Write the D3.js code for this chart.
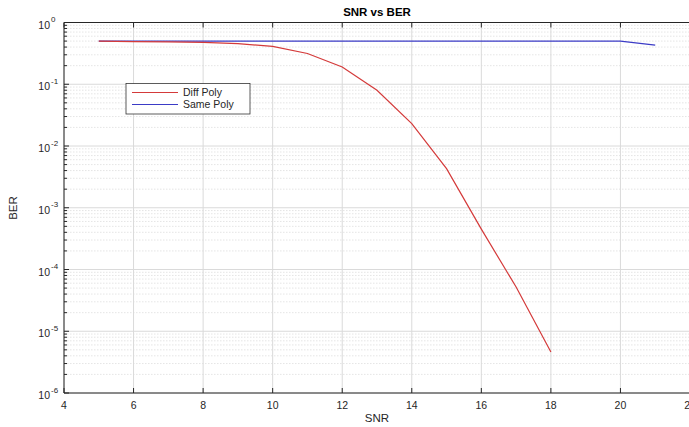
<!DOCTYPE html>
<html><head><meta charset="utf-8">
<script src="https://cdn.jsdelivr.net/npm/d3@7"></script>
<style>
body{margin:0;background:#fff;}
svg{display:block;font-family:"Liberation Sans",Arial,sans-serif;}
</style></head>
<body>
<svg id="c" width="689" height="427"></svg>
<script>
const snrDiff = [5,6,7,8,9,10,11,12,13,14,15,16,17,18];
const berDiff = [0.5,0.49,0.485,0.475,0.455,0.41,0.315,0.19,0.08,0.023,0.0043,0.00045,0.000052,0.0000046];
const snrSame = [5,6,7,8,9,10,11,12,13,14,15,16,17,18,19,20,21];
const berSame = [0.5,0.5,0.5,0.5,0.5,0.5,0.5,0.5,0.5,0.5,0.5,0.5,0.5,0.5,0.5,0.5,0.43];
const xTicks = [4,6,8,10,12,14,16,18,20,22];
const yExps = [0,-1,-2,-3,-4,-5,-6];
const seriesNames = ["Diff Poly","Same Poly"];
const colors = ["#d43a3a","#3b3bc6"];

const svg = d3.select("#c");
const L=64, R=690, T=22.5, B=393;
const x = d3.scaleLinear().domain([4,22]).range([L,R]);
const y = d3.scaleLog().domain([1e-6,1]).range([B,T]);
const axisCol="#262626";

// grid
const g = svg.append("g");
// minor y grid
yExps.slice(1).forEach(e=>{
  for(let m=2;m<=9;m++){
    const v=m*Math.pow(10,e);
    g.append("line").attr("x1",L).attr("x2",R).attr("y1",y(v)).attr("y2",y(v))
      .attr("stroke","#dedede").attr("stroke-width",0.8).attr("stroke-dasharray","1.5,1.5");
  }
});
// major y grid
yExps.forEach(e=>{
  const v=Math.pow(10,e);
  g.append("line").attr("x1",L).attr("x2",R).attr("y1",y(v)).attr("y2",y(v))
    .attr("stroke","#dadada").attr("stroke-width",1);
});
// major x grid
xTicks.forEach(t=>{
  g.append("line").attr("x1",x(t)).attr("x2",x(t)).attr("y1",T).attr("y2",B)
    .attr("stroke","#dadada").attr("stroke-width",1);
});

// lines
const line = d3.line().x(d=>x(d[0])).y(d=>y(d[1]));
svg.append("path").datum(snrSame.map((s,i)=>[s,berSame[i]]))
  .attr("d",line).attr("fill","none").attr("stroke",colors[1]).attr("stroke-width",1.2);
svg.append("path").datum(snrDiff.map((s,i)=>[s,berDiff[i]]))
  .attr("d",line).attr("fill","none").attr("stroke",colors[0]).attr("stroke-width",1.2);

// axes box
svg.append("line").attr("x1",L).attr("x2",L).attr("y1",T).attr("y2",B).attr("stroke",axisCol);
svg.append("line").attr("x1",L).attr("x2",R).attr("y1",B).attr("y2",B).attr("stroke",axisCol);
svg.append("line").attr("x1",L).attr("x2",R).attr("y1",T).attr("y2",T).attr("stroke",axisCol);

// x ticks
const xa = svg.append("g");
xTicks.forEach(t=>{
  xa.append("line").attr("x1",x(t)).attr("x2",x(t)).attr("y1",B).attr("y2",B-5).attr("stroke",axisCol);
  xa.append("line").attr("x1",x(t)).attr("x2",x(t)).attr("y1",T).attr("y2",T+5).attr("stroke",axisCol);
  xa.append("text").attr("x",x(t)).attr("y",409).attr("text-anchor","middle")
    .attr("font-size",10.5).attr("fill",axisCol).text(t);
});
// y ticks
yExps.forEach(e=>{
  const v=Math.pow(10,e);
  svg.append("line").attr("x1",L).attr("x2",L+5).attr("y1",y(v)).attr("y2",y(v)).attr("stroke",axisCol);
  const tx = svg.append("text").attr("x",50).attr("y",y(v)+6).attr("text-anchor","end")
    .attr("font-size",10.5).attr("fill",axisCol);
  tx.text("10");
  svg.append("text").attr("x",51).attr("y",y(v)-0.5).attr("font-size",8)
    .attr("fill",axisCol).text(e===0?"0":"-"+(-e));
  if(e>-6){
    for(let m=2;m<=9;m++){
      const mv=m*Math.pow(10,e-1);
      svg.append("line").attr("x1",L).attr("x2",L+3).attr("y1",y(mv)).attr("y2",y(mv)).attr("stroke",axisCol);
    }
  }
});

// labels
svg.append("text").attr("x",(L+R)/2).attr("y",16).attr("text-anchor","middle")
  .attr("font-size",11.5).attr("font-weight","bold").attr("fill","#000").text("SNR vs BER");
svg.append("text").attr("x",(L+R)/2).attr("y",422).attr("text-anchor","middle")
  .attr("font-size",11.5).attr("fill",axisCol).text("SNR");
svg.append("text").attr("transform","translate(17,208) rotate(-90)").attr("text-anchor","middle")
  .attr("font-size",11.5).attr("fill",axisCol).text("BER");

// legend
const lg = svg.append("g");
lg.append("rect").attr("x",126).attr("y",83.5).attr("width",124).attr("height",30.5)
  .attr("fill","#fff").attr("stroke","#333").attr("stroke-width",0.8);
seriesNames.forEach((n,i)=>{
  const yy = 92.5 + i*12;
  lg.append("line").attr("x1",132).attr("x2",178).attr("y1",yy).attr("y2",yy)
    .attr("stroke",colors[i]).attr("stroke-width",1);
  lg.append("text").attr("x",183).attr("y",yy+3.8).attr("font-size",10.5)
    .attr("fill",axisCol).text(n);
});
</script>
</body></html>
